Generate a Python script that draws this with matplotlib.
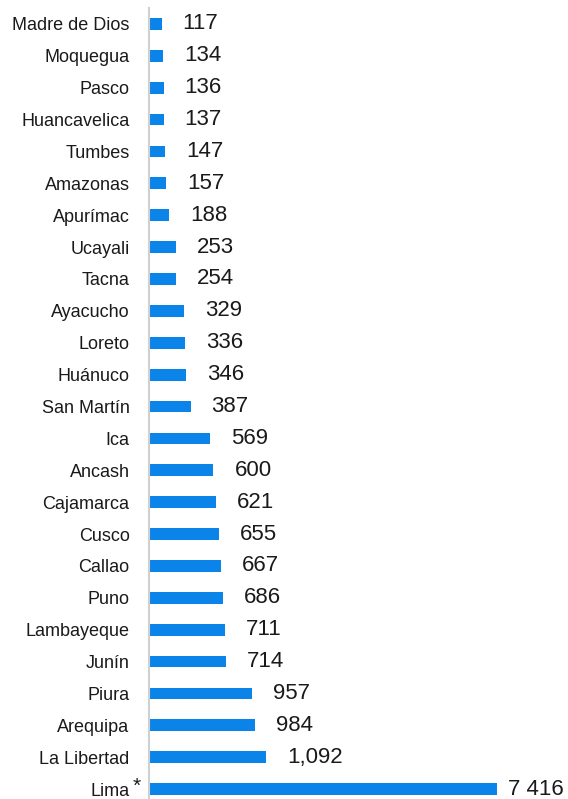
import matplotlib
matplotlib.use("Agg")
import matplotlib.pyplot as plt

regions = ["Madre de Dios", "Moquegua", "Pasco", "Huancavelica", "Tumbes", "Amazonas",
           "Apurímac", "Ucayali", "Tacna", "Ayacucho", "Loreto", "Huánuco", "San Martín",
           "Ica", "Ancash", "Cajamarca", "Cusco", "Callao", "Puno", "Lambayeque", "Junín",
           "Piura", "Arequipa", "La Libertad", "Lima"]
values = [117, 134, 136, 137, 147, 157, 188, 253, 254, 329, 336, 346, 387,
          569, 600, 621, 655, 667, 686, 711, 714, 957, 984, 1092, 7416]
value_labels = ["117", "134", "136", "137", "147", "157", "188", "253", "254", "329",
                "336", "346", "387", "569", "600", "621", "655", "667", "686", "711",
                "714", "957", "984", "1,092", "7 416"]

plt.rcParams['font.family'] = ['Liberation Sans', 'DejaVu Sans']

W, H = 568, 799
fig = plt.figure(figsize=(W / 100, H / 100), dpi=100)
left_px, right_px, top_px = 149, 497, 8
ax = fig.add_axes([left_px / W, 0, (right_px - left_px) / W, 1 - top_px / H])

xmax = 3240
y = list(range(len(regions)))
ax.barh(y, values, height=0.37, color="#0A84E8", left=0)
ax.set_xlim(0, xmax)
ax.set_ylim(24.31, -0.5)

for i, (v, lab) in enumerate(zip(values, value_labels)):
    if v > xmax:
        ax.annotate(lab, (xmax, i), xytext=(11, 0), textcoords="offset pixels",
                    va="center", ha="left", fontsize=16, color="#1a1a1a",
                    annotation_clip=False)
    else:
        ax.annotate(lab, (v, i), xytext=(21, 0), textcoords="offset pixels",
                    va="center", ha="left", fontsize=16, color="#1a1a1a")

ax.set_yticks(y)
ax.set_yticklabels(regions, fontsize=13, color="#1a1a1a")
ax.tick_params(axis="y", length=0, pad=14)
# asterisk after "Lima"
ax.annotate("*", (0, len(regions) - 1), xytext=(-16, 3), textcoords="offset pixels",
            va="center", ha="left", fontsize=15, color="#1a1a1a", annotation_clip=False)
ax.set_xticks([])
for s in ["top", "right", "bottom"]:
    ax.spines[s].set_visible(False)
ax.spines["left"].set_color("#d0d0d0")
ax.spines["left"].set_linewidth(1.5)

fig.savefig("out.png", dpi=100)
